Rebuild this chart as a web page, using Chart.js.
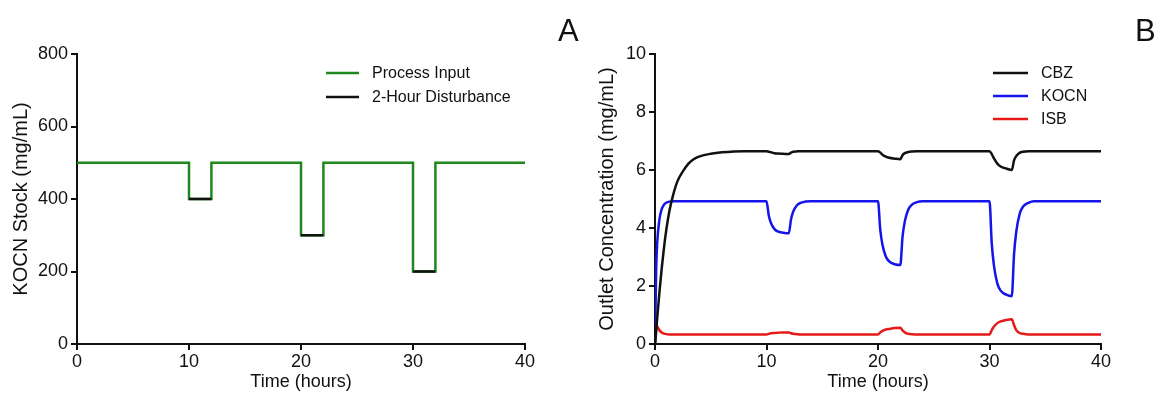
<!DOCTYPE html>
<html>
<head>
<meta charset="utf-8">
<script src="https://cdn.jsdelivr.net/npm/chart.js@4.4.1/dist/chart.umd.min.js"></script>
<style>
  body { margin: 0; background: #fff; }
  #wrap { position: relative; width: 1157px; height: 396px; overflow: hidden; font-family: "Liberation Sans", Arial, Helvetica, sans-serif; }
  .panel { position: absolute; top: 0; height: 396px; }
  .letter { position: absolute; font-size: 31px; line-height: 1; color: #111; }
</style>
</head>
<body>
<div id="wrap">
  <div class="panel" style="left:0;width:560px"><canvas id="stock-chart" width="560" height="396"></canvas></div>
  <div class="panel" style="left:570px;width:587px"><canvas id="outlet-chart" width="587" height="396"></canvas></div>
  <div class="letter" style="left:558px;top:15px">A</div>
  <div class="letter" style="left:1135px;top:15px">B</div>
</div>
<script>
// Panel A: KOCN stock fed to the process (mg/mL)
const stockTimes = [0, 10, 10, 12, 12, 20, 20, 22, 22, 30, 30, 32, 32, 40];
const processInput = [500, 500, 400, 400, 500, 500, 300, 300, 500, 500, 200, 200, 500, 500];
const disturbanceTimes = [10, 12, 12, 20, 22, 22, 30, 32];
const disturbanceValues = [400, 400, null, 300, 300, null, 200, 200];

// Panel B: outlet concentrations (mg/mL)
const outletTimes = [0, 0.1, 0.2, 0.4, 0.6, 0.8, 1, 1.3, 1.6, 2, 2.5, 3, 3.5, 4, 5, 6, 8,
    10, 10.2, 10.4, 10.7, 11, 11.5, 12, 12.2, 12.4, 12.7, 13, 13.5, 14,
    20, 20.2, 20.4, 20.7, 21, 21.5, 22, 22.2, 22.4, 22.7, 23, 23.5, 24,
    30, 30.2, 30.4, 30.7, 31, 31.5, 32, 32.2, 32.4, 32.7, 33, 33.5, 34, 40];
const cbz = [0, 0.4, 0.9, 1.8, 2.6, 3.3, 3.9, 4.6, 5.1, 5.6, 5.95, 6.22, 6.38, 6.47, 6.56, 6.61, 6.65,
    6.65, 6.63, 6.61, 6.58, 6.57, 6.56, 6.55, 6.60, 6.63, 6.64, 6.65, 6.65, 6.65,
    6.65, 6.60, 6.53, 6.46, 6.42, 6.39, 6.37, 6.51, 6.58, 6.62, 6.64, 6.65, 6.65,
    6.65, 6.55, 6.40, 6.22, 6.12, 6.05, 6.00, 6.33, 6.48, 6.59, 6.63, 6.65, 6.65, 6.65];
const kocn = [0, 2.5, 3.5, 4.3, 4.65, 4.8, 4.87, 4.91, 4.92, 4.92, 4.92, 4.92, 4.92, 4.92, 4.92, 4.92, 4.92,
    4.92, 4.44, 4.17, 3.97, 3.88, 3.84, 3.82, 4.30, 4.57, 4.77, 4.86, 4.91, 4.92,
    4.92, 3.95, 3.42, 3.02, 2.85, 2.75, 2.72, 3.69, 4.22, 4.62, 4.79, 4.89, 4.92,
    4.92, 3.48, 2.70, 2.09, 1.84, 1.70, 1.65, 3.09, 3.87, 4.48, 4.73, 4.87, 4.92, 4.92];
const isb = [0, 0.55, 0.6, 0.47, 0.40, 0.36, 0.34, 0.33, 0.33, 0.33, 0.33, 0.33, 0.33, 0.33, 0.33, 0.33, 0.33,
    0.33, 0.35, 0.37, 0.38, 0.39, 0.40, 0.40, 0.37, 0.35, 0.34, 0.33, 0.33, 0.33,
    0.33, 0.40, 0.45, 0.50, 0.52, 0.55, 0.56, 0.47, 0.40, 0.35, 0.34, 0.33, 0.33,
    0.33, 0.48, 0.60, 0.72, 0.78, 0.83, 0.85, 0.65, 0.48, 0.38, 0.35, 0.33, 0.33, 0.33];

const FONT = '"Liberation Sans", Arial, Helvetica, sans-serif';
const toPoints = (xs, ys) => xs.map((x, i) => ({ x, y: ys[i] }));

// legend drawn inside the plot, as in the figure
const insideLegend = {
    id: 'insideLegend',
    afterDraw(chart, args, opts) {
        const ctx = chart.ctx;
        ctx.save();
        ctx.font = `16px ${FONT}`;
        ctx.textBaseline = 'middle';
        chart.data.datasets.forEach((ds, i) => {
            const y = opts.y + i * opts.gap;
            ctx.strokeStyle = ds.borderColor;
            ctx.lineWidth = 2.5;
            ctx.beginPath();
            ctx.moveTo(opts.x, y);
            ctx.lineTo(opts.x + opts.len, y);
            ctx.stroke();
            ctx.fillStyle = '#111';
            ctx.fillText(ds.label, opts.x + opts.len + 13, y + 1);
        });
        ctx.restore();
    }
};

function axes(yMax, yStep, yTitle, yWidth, yTitlePad) {
    const tickFont = { family: FONT, size: 18 };
    return {
        x: {
            type: 'linear', min: 0, max: 40,
            afterFit: s => { s.height = 52; },
            border: { color: '#111', width: 2 },
            grid: { drawOnChartArea: false, color: '#111', lineWidth: 2, tickLength: 6 },
            ticks: { stepSize: 10, color: '#111', font: tickFont, padding: 1, maxRotation: 0 },
            title: { display: true, text: 'Time (hours)', color: '#111', font: { family: FONT, size: 18 }, padding: { top: 0, bottom: 3 } }
        },
        y: {
            min: 0, max: yMax,
            afterFit: s => { s.width = yWidth; },
            border: { color: '#111', width: 2 },
            grid: { drawOnChartArea: false, color: '#111', lineWidth: 2, tickLength: 6 },
            ticks: { stepSize: yStep, color: '#111', font: tickFont, padding: 3 },
            title: { display: true, text: yTitle, color: '#111', font: { family: FONT, size: 20 }, padding: { top: yTitlePad, bottom: 0 } }
        }
    };
}

const lineStyle = { borderWidth: 2.5, pointRadius: 0, tension: 0, fill: false, spanGaps: false };

new Chart(document.getElementById('stock-chart'), {
    type: 'line',
    data: {
        datasets: [
            { label: 'Process Input', data: toPoints(stockTimes, processInput), borderColor: 'rgb(30,135,30)', order: 1, ...lineStyle },
            { label: '2-Hour Disturbance', data: toPoints(disturbanceTimes, disturbanceValues), borderColor: '#111', order: 0, ...lineStyle }
        ]
    },
    options: {
        responsive: false,
        animation: false,
        layout: { padding: { top: 54, right: 35, bottom: 0, left: 0 } },
        plugins: {
            legend: { display: false },
            tooltip: { enabled: false },
            insideLegend: { x: 326, y: 73, gap: 24, len: 33 }
        },
        scales: axes(800, 200, 'KOCN Stock (mg/mL)', 77, 9)
    },
    plugins: [insideLegend]
});

new Chart(document.getElementById('outlet-chart'), {
    type: 'line',
    data: {
        datasets: [
            { label: 'CBZ', data: toPoints(outletTimes, cbz), borderColor: '#111', ...lineStyle, cubicInterpolationMode: 'monotone' },
            { label: 'KOCN', data: toPoints(outletTimes, kocn), borderColor: 'rgb(20,20,235)', ...lineStyle, cubicInterpolationMode: 'monotone' },
            { label: 'ISB', data: toPoints(outletTimes, isb), borderColor: 'rgb(230,25,25)', ...lineStyle, cubicInterpolationMode: 'monotone' }
        ]
    },
    options: {
        responsive: false,
        animation: false,
        layout: { padding: { top: 54, right: 56, bottom: 0, left: 0 } },
        plugins: {
            legend: { display: false },
            tooltip: { enabled: false },
            insideLegend: { x: 423, y: 73, gap: 23, len: 35 }
        },
        scales: axes(10, 2, 'Outlet Concentration (mg/mL)', 85, 25)
    },
    plugins: [insideLegend]
});
</script>
</body>
</html>
